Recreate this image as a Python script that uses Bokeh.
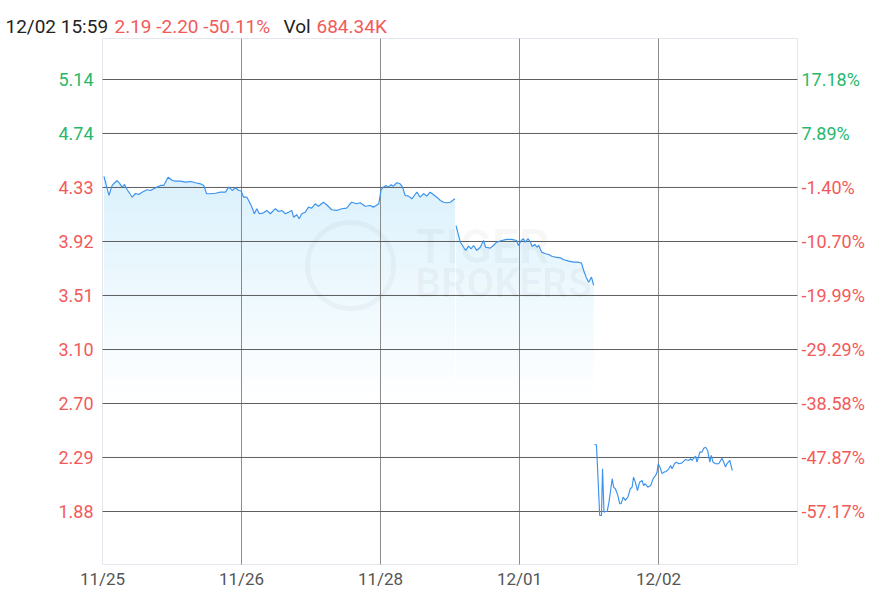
import numpy as np
from bokeh.plotting import figure
from bokeh.models import Range1d
from bokeh.core.properties import value
from bokeh.embed import file_html
from bokeh.resources import INLINE

# ---------------- data ----------------
prev_close = 4.39
pct_ticks = [17.18, 7.89, -1.40, -10.70, -19.99, -29.29, -38.58, -47.87, -57.17]
price_labels = ["5.14", "4.74", "4.33", "3.92", "3.51", "3.10", "2.70", "2.29", "1.88"]
pct_labels = ["17.18%", "7.89%", "-1.40%", "-10.70%", "-19.99%", "-29.29%", "-38.58%", "-47.87%", "-57.17%"]

day_ticks = [0, 390, 780, 1170, 1560]
day_labels = ["11/25", "11/26", "11/28", "12/01", "12/02"]

header_time = "12/02 15:59"
header_quote = "2.19 -2.20 -50.11%"
header_vol_label = "Vol"
header_vol = "684.34K"

# minute index (5 sessions, 390 min each on the axis) and price
d1_t = [4, 18, 27, 41, 48, 55, 62, 67, 83, 93, 102, 111, 125, 135, 144, 153, 163, 172, 184, 196,
        205, 219, 233, 247, 261, 275, 284, 292, 303, 317, 331, 345, 354, 364, 373, 382, 389]
d1_p = [4.412, 4.268, 4.344, 4.381, 4.359, 4.331, 4.351, 4.321, 4.255, 4.283, 4.276, 4.293, 4.311,
        4.306, 4.319, 4.331, 4.344, 4.344, 4.406, 4.381, 4.376, 4.376, 4.369, 4.374, 4.364, 4.356,
        4.344, 4.281, 4.281, 4.285, 4.293, 4.293, 4.331, 4.306, 4.326, 4.306, 4.302]

d2_t = [396, 405, 410, 419, 426, 433, 440, 452, 461, 471, 485, 494, 503, 513, 522, 531, 536, 545,
        552, 559, 569, 578, 587, 597, 606, 620, 629, 643, 657, 671, 685, 699, 713, 723, 737, 751,
        760, 768, 775]
d2_p = [4.255, 4.255, 4.230, 4.180, 4.130, 4.168, 4.130, 4.137, 4.155, 4.130, 4.168, 4.147, 4.155,
        4.130, 4.142, 4.155, 4.104, 4.122, 4.092, 4.130, 4.142, 4.180, 4.172, 4.205, 4.187, 4.217,
        4.198, 4.160, 4.155, 4.168, 4.172, 4.217, 4.205, 4.213, 4.187, 4.192, 4.180, 4.192, 4.205]

d3_t = [782, 788, 795, 802, 810, 816, 826, 835, 842, 849, 859, 868, 875, 882, 891, 901, 910, 919,
        929, 938, 948, 957, 966, 976, 982, 989]
d3_p = [4.313, 4.331, 4.344, 4.331, 4.349, 4.338, 4.364, 4.356, 4.331, 4.268, 4.263, 4.243, 4.268,
        4.293, 4.255, 4.281, 4.263, 4.293, 4.273, 4.255, 4.230, 4.217, 4.213, 4.217, 4.230, 4.243]

d4_t = [992, 999, 1004, 1013, 1019, 1027, 1034, 1041, 1050, 1060, 1069, 1075, 1088, 1097, 1106,
        1120, 1134, 1148, 1162, 1167, 1175, 1181, 1186, 1194, 1201, 1205, 1213, 1219, 1224, 1232,
        1243, 1252, 1262, 1271, 1285, 1294, 1308, 1322, 1336, 1344, 1350, 1357, 1364, 1372, 1378]
d4_p = [4.041, 3.966, 3.915, 3.877, 3.853, 3.885, 3.865, 3.890, 3.853, 3.877, 3.928, 3.877, 3.870,
        3.890, 3.915, 3.928, 3.936, 3.936, 3.928, 3.890, 3.928, 3.941, 3.915, 3.941, 3.915, 3.883,
        3.898, 3.877, 3.890, 3.840, 3.828, 3.822, 3.807, 3.802, 3.797, 3.782, 3.772, 3.764, 3.764,
        3.757, 3.701, 3.651, 3.613, 3.651, 3.588]

d5_t = [1380, 1386, 1395, 1400, 1403, 1407, 1411, 1416, 1421, 1425, 1430, 1434, 1439, 1446, 1451,
        1455, 1461, 1467, 1474, 1481, 1486, 1490, 1495, 1501, 1507, 1514, 1518, 1523, 1530, 1538,
        1545, 1552, 1556, 1559, 1564, 1570, 1575, 1582, 1589, 1594, 1598, 1605, 1610, 1617, 1626,
        1635, 1645, 1650, 1654, 1664, 1668, 1676, 1682, 1687, 1692, 1698, 1704, 1708, 1713, 1720,
        1729, 1738, 1743, 1748, 1752, 1760, 1767]
d5_p = [2.385, 2.385, 1.850, 1.850, 2.203, 1.875, 1.880, 1.880, 1.951, 2.026, 2.128, 2.064, 2.052,
        2.002, 1.939, 1.939, 1.989, 1.964, 1.989, 2.052, 2.064, 2.140, 2.102, 2.039, 2.102, 2.115,
        2.077, 2.090, 2.064, 2.077, 2.128, 2.153, 2.178, 2.241, 2.216, 2.166, 2.178, 2.183, 2.203,
        2.228, 2.203, 2.241, 2.253, 2.241, 2.248, 2.273, 2.266, 2.279, 2.266, 2.298, 2.253, 2.329,
        2.329, 2.359, 2.366, 2.341, 2.253, 2.304, 2.253, 2.241, 2.241, 2.283, 2.253, 2.216, 2.241,
        2.266, 2.190]

# ---------------- layout / style ----------------
FONT = "Roboto"
UP = "#27b86a"
DOWN = "#f25a5a"
LINE = "#3a92ee"
FILL_TOP_RGB = (219, 241, 252)
X_START, X_END = 0, 1950          # plotting area, minutes
Y_START, Y_END = 1.4799, 5.4540   # plotting area, price

W, H = 880, 594                   # canvas
PA_L, PA_R, PA_T, PA_B = 102, 797, 38, 564   # plotting area in canvas pixels
xpp = (X_END - X_START) / (PA_R - PA_L)
ypp = (Y_END - Y_START) / (PA_B - PA_T)

p = figure(width=W, height=H, output_backend="svg", toolbar_location=None,
           x_range=Range1d(X_START - PA_L * xpp, X_END + (W - PA_R) * xpp),
           y_range=Range1d(Y_START - (H - PA_B) * ypp, Y_END + PA_T * ypp),
           min_border=0, x_axis_type=None, y_axis_type=None)
p.background_fill_color = "white"
p.border_fill_color = "white"
p.outline_line_color = None
p.grid.visible = False

tick_vals = [prev_close * (1 + v / 100.0) for v in pct_ticks]

# ---- gradient area fill (horizontal colour bands below the price line) ----
all_p = d1_p + d2_p + d3_p + d4_p + d5_p
fill_top = max(all_p)
fade_floor = 2.72
band = 0.04
overlap = 0.005


def band_color(level):
    f = (level - fade_floor) / (fill_top - fade_floor)
    f = min(max(f, 0.0), 1.0)
    r, g, b = [int(round(255 + (c - 255) * f)) for c in FILL_TOP_RGB]
    return "#%02x%02x%02x" % (r, g, b)


def add_fill(ts, ps):
    t = np.asarray(ts, float)
    pr = np.asarray(ps, float)
    lo = fade_floor
    while lo < pr.max():
        hi = lo + band
        y2 = np.clip(pr, lo, hi)
        y1 = np.where(pr > lo, lo - overlap, lo)
        p.varea(x=t, y1=y1, y2=y2, fill_color=band_color(lo + band / 2))
        lo = hi


add_fill(d1_t + d2_t + d3_t, d1_p + d2_p + d3_p)
add_fill(d4_t, d4_p)
add_fill(d5_t, d5_p)

# ---- plotting-area frame and grid ----
p.quad(left=[X_START], right=[X_END], bottom=[Y_START], top=[Y_END],
       fill_color=None, line_color="#e4e8ee", line_width=1)
p.segment(x0=day_ticks[1:], x1=day_ticks[1:], y0=[Y_START] * 4, y1=[Y_END] * 4,
          line_color="#8c8c8c", line_width=1)
p.segment(x0=[X_START] * len(tick_vals), x1=[X_END] * len(tick_vals), y0=tick_vals, y1=tick_vals,
          line_color="#5e5e5e", line_width=1)

# ---- watermark ----
p.text(x=[878], y=[3.885], text=["TIGER"], text_font=value(FONT), text_font_size=value("48px"),
       text_font_style="bold", text_color="#000000", text_alpha=0.03,
       text_baseline="middle", text_align="left")
p.text(x=[878], y=[3.603], text=["BROKERS"], text_font=value(FONT), text_font_size=value("40px"),
       text_font_style="bold", text_color="#000000", text_alpha=0.03,
       text_baseline="middle", text_align="left")
p.scatter(x=[696], y=[3.739], size=86, fill_color=None, line_color="#000000",
          line_alpha=0.03, line_width=5)

# ---- price lines ----
p.line(d1_t + d2_t + d3_t, d1_p + d2_p + d3_p, line_color=LINE, line_width=1.15)
p.line(d4_t, d4_p, line_color=LINE, line_width=1.15)
p.line(d5_t, d5_p, line_color=LINE, line_width=1.15)

# ---- axis labels ----
tick_colors = [UP if v > 0 else DOWN for v in pct_ticks]
p.text(x=[X_START] * len(tick_vals), y=tick_vals, text=price_labels, text_color=tick_colors,
       text_font=value(FONT), text_font_size=value("18px"), text_align="right",
       text_baseline="middle", x_offset=-9)
p.text(x=[X_END] * len(tick_vals), y=tick_vals, text=pct_labels, text_color=tick_colors,
       text_font=value(FONT), text_font_size=value("18px"), text_align="left",
       text_baseline="middle", x_offset=4)
p.text(x=day_ticks, y=[Y_START] * len(day_ticks), text=day_labels, text_color="#555555",
       text_font=value(FONT), text_font_size=value("17px"), text_align="center",
       text_baseline="middle", y_offset=14)

# ---- header ----
hdr_text = [header_time, header_quote, header_vol_label, header_vol]
hdr_color = ["#222222", DOWN, "#222222", DOWN]
hdr_dx = [5, 114, 283, 316]
p.text(x=[X_START] * 4, y=[Y_END] * 4, text=hdr_text, text_color=hdr_color,
       x_offset=[d - PA_L for d in hdr_dx], y_offset=-12,
       text_font=value(FONT), text_font_size=value("19px"), text_align="left",
       text_baseline="alphabetic")

open("out.html", "w").write(file_html(p, INLINE))
